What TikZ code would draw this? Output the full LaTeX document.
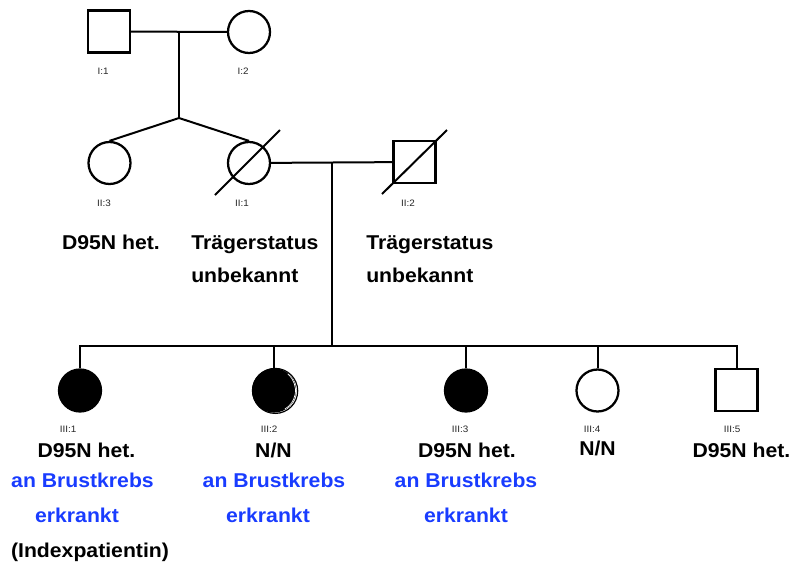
\documentclass[tikz,border=0pt]{standalone}
\usepackage{fontspec}
\setmainfont{Liberation Sans}[FakeStretch=1.06]
\usepackage{xcolor}
\usetikzlibrary{positioning, calc}
\definecolor{krebsblau}{RGB}{25,60,255}
\tikzset{
    male/.style={
        rectangle, draw=black, fill=white, line width=1.7pt,
        minimum size=31.5pt, inner sep=0pt
    },
    female/.style={
        circle, draw=black, fill=white, line width=1.7pt,
        minimum size=31.5pt, inner sep=0pt
    },
    affected/.style={fill=black},
    line/.style={line width=1.5pt, draw=black},
    idlabel/.style={
        font=\fontsize{7}{8}\selectfont, text=black!85, inner sep=0pt
    },
    status/.style={
        font=\fontsize{15}{18}\selectfont\bfseries, anchor=base, inner sep=0pt
    },
    disease/.style={status, text=krebsblau}
}

\begin{document}
\begin{tikzpicture}[x=0.75pt, y=-0.75pt]
    \useasboundingbox (0,0) rectangle (793,562);

    % generation I
    \node[male]   (i1) at (109,31.5) {};
    \node[female] (i2) at (249,32) {};
    \node[idlabel] (i1l) at (103,71) {I:1};
    \node[idlabel] (i2l) at (243,71) {I:2};

    % generation II
    \node[female] (ii3) at (109.5,163) {};
    \node[female] (ii1) at (249,163) {};
    \node[male]   (ii2) at (414.5,162) {};
    \node[idlabel] (ii3l) at (104,203) {II:3};
    \node[idlabel] (ii1l) at (242,203) {II:1};
    \node[idlabel] (ii2l) at (408,203) {II:2};

    \node[status] (ii3s) at (111,249) {D95N het.};
    \node[status, anchor=base west] (ii1s)  at (191,249) {Trägerstatus};
    \node[status, anchor=base west] (ii1s2) at (191,282) {unbekannt};
    \node[status, anchor=base west] (ii2s)  at (366,249) {Trägerstatus};
    \node[status, anchor=base west] (ii2s2) at (366,282) {unbekannt};

    % generation III
    \node[female, affected] (iii1) at (80,390.5) {};
    \node[female, affected] (iii2) at (274,390.5) {};
    \node[female, affected] (iii3) at (466,390.5) {};
    \node[female]           (iii4) at (597.5,390.5) {};
    \node[male]             (iii5) at (736.5,390) {};
    \node[idlabel] (iii1l) at (68,429)  {III:1};
    \node[idlabel] (iii2l) at (269,429) {III:2};
    \node[idlabel] (iii3l) at (460,429) {III:3};
    \node[idlabel] (iii4l) at (592,429) {III:4};
    \node[idlabel] (iii5l) at (732,429) {III:5};

    \node[status]  (iii1s)  at (86.5,457) {D95N het.};
    \node[disease] (iii1d)  at (82.5,487) {an Brustkrebs};
    \node[disease] (iii1d2) at (77,522)   {erkrankt};
    \node[status]  (iii1x)  at (90,557)   {(Indexpatientin)};
    \node[status]  (iii2s)  at (273.5,457) {N/N};
    \node[disease] (iii2d)  at (274,487)  {an Brustkrebs};
    \node[disease] (iii2d2) at (268,522)  {erkrankt};
    \node[status]  (iii3s)  at (467,457)  {D95N het.};
    \node[disease] (iii3d)  at (466,487)  {an Brustkrebs};
    \node[disease] (iii3d2) at (466,522)  {erkrankt};
    \node[status]  (iii4s)  at (597.5,455) {N/N};
    \node[status]  (iii5s)  at (741.5,457) {D95N het.};

    % second outline on III:2
    \draw[white, line width=0.5pt] ($(iii2.center)+(-50:21.5)$) arc[start angle=-50, end angle=60, radius=21.5];
    \draw[line width=0.9pt] ($(iii2.center)+(1.2,0.4)$) circle[radius=22.5];

    % deceased
    \draw[line] ($(ii1.center)+(-34,32)$) -- ($(ii1.center)+(31,-33)$);
    \draw[line] ($(ii2.center)+(-32.5,32)$) -- ($(ii2.center)+(32.5,-32)$);

    % mating and sibship lines
    \coordinate (m1) at ($(i1.east)!0.5!(i2.west)$);
    \coordinate (s1) at (m1 |- 0,118);
    \draw[line] (i1) -- (i2);
    \draw[line] (m1) -- (s1);
    \draw[line] (s1) -- (ii3.north);
    \draw[line] (s1) -- (ii1.north);

    \coordinate (m2) at (332,163);
    \coordinate (s2) at (332,346);
    \draw[line] (ii1) -- (ii2);
    \draw[line] (m2) -- (s2);
    \draw[line] (iii1.north) |- (s2) -| (iii5.north);
    \draw[line] (iii2.north) -- (iii2.north |- s2);
    \draw[line] (iii3.north) -- (iii3.north |- s2);
    \draw[line] (iii4.north) -- (iii4.north |- s2);
\end{tikzpicture}
\end{document}
